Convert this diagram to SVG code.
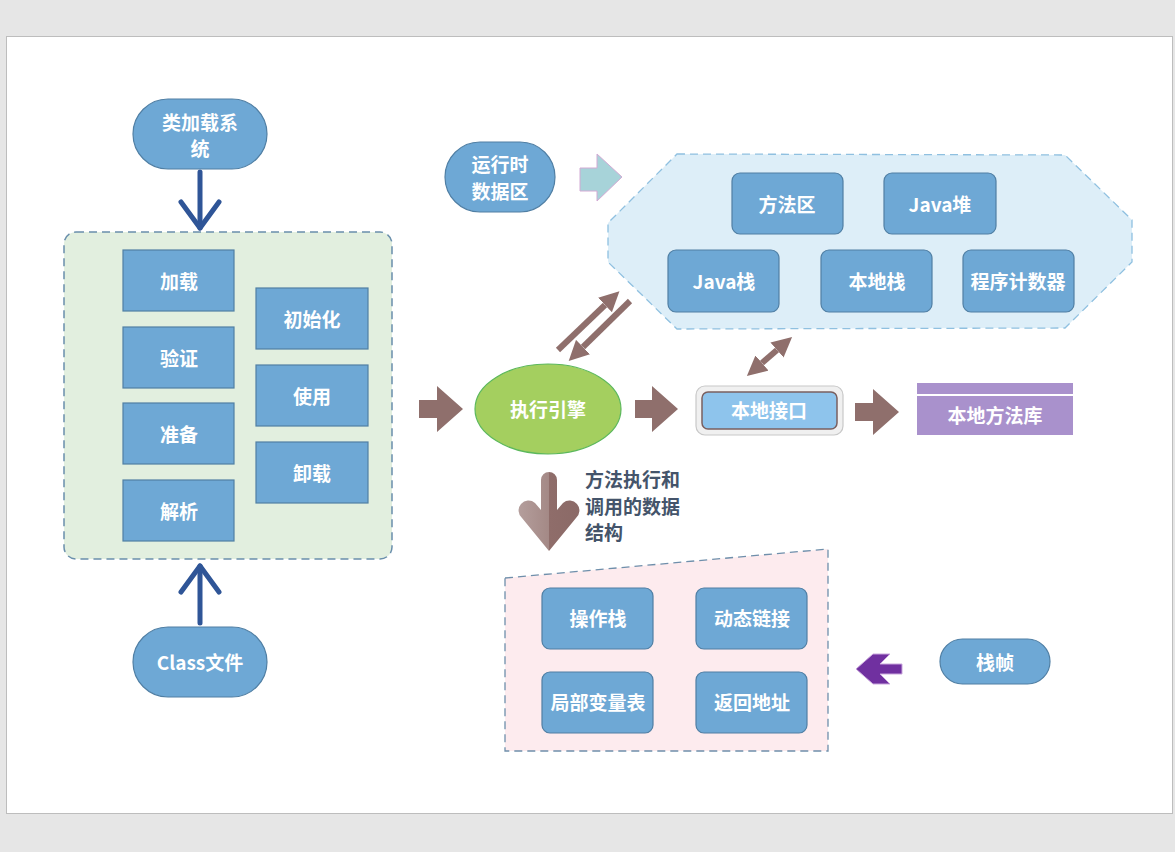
<svg xmlns="http://www.w3.org/2000/svg" width="1175" height="852" viewBox="0 0 1175 852">
<defs>
<style>
.t{font-family:"Noto Sans CJK SC","Noto Sans",sans-serif;font-weight:bold;font-size:19px;fill:#ffffff;text-anchor:middle;dominant-baseline:central}
.d{font-family:"Noto Sans CJK SC","Noto Sans",sans-serif;font-weight:bold;font-size:19px;fill:#44546a;dominant-baseline:central}
.box{fill:#6ea8d5;stroke:#507fa4;stroke-width:1.2}
.blue{fill:none;stroke:#2f5597;stroke-width:5;stroke-linecap:round;stroke-linejoin:round}
.brown{stroke:#8f6f6c;stroke-width:6;fill:none}
.block{fill:#8f6f6c}
</style>
<marker id="ah" viewBox="0 0 20 20" refX="0" refY="10" markerWidth="20" markerHeight="20" markerUnits="userSpaceOnUse" orient="auto-start-reverse">
<path d="M0,0 L20,10 L0,20 Z" fill="#8f6f6c"/>
</marker>
<linearGradient id="gd" x1="0" y1="0" x2="1" y2="0">
<stop offset="0" stop-color="#b49e9c"/>
<stop offset="0.5" stop-color="#a48986"/>
<stop offset="0.5" stop-color="#8f6d6a"/>
<stop offset="1" stop-color="#8b6a67"/>
</linearGradient>
</defs>
<rect x="0" y="0" width="1175" height="852" fill="#e6e6e6"/>
<rect x="6.5" y="36.5" width="1166" height="777" fill="#ffffff" stroke="#bdbdbd"/>

<g id="connectors">
<polyline class="blue" points="200,172 200,228"/>
<polyline class="blue" points="181,202 200,228 219,202"/>
<polyline class="blue" points="200,623 200,566"/>
<polyline class="blue" points="181,592 200,566 219,592"/>
<polygon points="580,168 597,168 597,154 622,177 597,201 597,191 580,191" fill="#a7d3d9" stroke="#d3aad4" stroke-width="1"/>
<polygon class="block" points="419,400 437,400 437,386 463,409 437,432 437,418 419,418"/>
<polygon class="block" points="635,400 652,400 652,386 678,409 652,432 652,418 635,418"/>
<polygon class="block" points="855,403 873,403 873,389 899,412 873,435 873,421 855,421"/>
<line class="brown" x1="558" y1="350" x2="605" y2="305" marker-end="url(#ah)"/>
<line class="brown" x1="630" y1="301" x2="583" y2="347" marker-end="url(#ah)"/>
<line class="brown" x1="762" y1="363" x2="777" y2="350" marker-start="url(#ah)" marker-end="url(#ah)"/>
<path d="M549,551 L522,518 A9,9 0 0 1 535,503 L541,510 L541,480 A8,8 0 0 1 557,480 L557,510 L563,503 A9,9 0 0 1 576,518 Z" fill="url(#gd)"/>
<polygon points="856,669 873,654 890,654 880,664 902,664 902,674 880,674 890,684 873,684" fill="#7030a0" stroke="#c9a6dd" stroke-width="1"/>
</g>

<g id="class-loader">
<rect x="133" y="99" width="134" height="70" rx="35" class="box"/>
<text class="t" x="200" y="121">类加载系</text>
<text class="t" x="200" y="147">统</text>
</g>

<g id="loading-area">
<rect x="64" y="232" width="328" height="327" rx="12" fill="#e2efdf" stroke="#6a8fac" stroke-width="1.5" stroke-dasharray="8,5"/>
</g>
<g id="n-load"><rect x="123" y="250" width="111" height="61" class="box"/><text class="t" x="179" y="280">加载</text></g>
<g id="n-verify"><rect x="123" y="327" width="111" height="61" class="box"/><text class="t" x="179" y="357">验证</text></g>
<g id="n-prepare"><rect x="123" y="403" width="111" height="61" class="box"/><text class="t" x="179" y="433">准备</text></g>
<g id="n-resolve"><rect x="123" y="480" width="111" height="61" class="box"/><text class="t" x="179" y="510">解析</text></g>
<g id="n-init"><rect x="256" y="288" width="112" height="61" class="box"/><text class="t" x="312" y="318">初始化</text></g>
<g id="n-use"><rect x="256" y="365" width="112" height="61" class="box"/><text class="t" x="312" y="395">使用</text></g>
<g id="n-unload"><rect x="256" y="442" width="112" height="61" class="box"/><text class="t" x="312" y="472">卸载</text></g>

<g id="class-file">
<rect x="133" y="627" width="134" height="70" rx="35" class="box"/>
<text class="t" x="200" y="661">Class文件</text>
</g>

<g id="runtime-label">
<rect x="445" y="142" width="110" height="70" rx="35" class="box"/>
<text class="t" x="500" y="163">运行时</text>
<text class="t" x="500" y="190">数据区</text>
</g>

<g id="runtime-area">
<polygon points="677,154 1065,155 1132,220 1132,262 1065,328 677,329 608,262 608,223" fill="#ddeef8" stroke="#8fc0e0" stroke-width="1.3" stroke-dasharray="8,5"/>
</g>
<g id="n-method"><rect x="732" y="173" width="111" height="61" rx="8" class="box"/><text class="t" x="787" y="203">方法区</text></g>
<g id="n-heap"><rect x="884" y="173" width="112" height="61" rx="8" class="box"/><text class="t" x="940" y="203">Java堆</text></g>
<g id="n-jstack"><rect x="668" y="250" width="111" height="62" rx="8" class="box"/><text class="t" x="724" y="280">Java栈</text></g>
<g id="n-nstack"><rect x="821" y="250" width="111" height="62" rx="8" class="box"/><text class="t" x="877" y="280">本地栈</text></g>
<g id="n-pc"><rect x="963" y="250" width="111" height="62" rx="8" class="box"/><text class="t" x="1018" y="280">程序计数器</text></g>

<g id="engine">
<ellipse cx="548" cy="409" rx="73" ry="45" fill="#a4cf5f" stroke="#5cb85c" stroke-width="1.2"/>
<text class="t" x="548" y="408">执行引擎</text>
</g>

<g id="native-interface">
<rect x="696" y="386" width="147" height="49" rx="9" fill="#f0f0f0" stroke="#c8c8c8" stroke-width="1.2"/>
<rect x="702" y="392" width="135" height="37" rx="6" fill="#8ec4ec" stroke="#7a5f5f" stroke-width="1.5"/>
<text class="t" x="769" y="409">本地接口</text>
</g>

<g id="native-lib">
<rect x="917" y="383" width="156" height="11" fill="#a991cc"/>
<rect x="917" y="396" width="156" height="39" fill="#a991cc"/>
<text class="t" x="995" y="414">本地方法库</text>
</g>

<g id="frame-label-text">
<text class="d" x="585" y="478">方法执行和</text>
<text class="d" x="585" y="505">调用的数据</text>
<text class="d" x="585" y="531">结构</text>
</g>

<g id="frame-area">
<polygon points="505,578 828,549 828,751 505,751" fill="#fdebee" stroke="#6f8fab" stroke-width="1.3" stroke-dasharray="8,5"/>
</g>
<g id="n-opstack"><rect x="542" y="588" width="111" height="61" rx="8" class="box"/><text class="t" x="598" y="617">操作栈</text></g>
<g id="n-dynlink"><rect x="696" y="588" width="111" height="61" rx="8" class="box"/><text class="t" x="752" y="617">动态链接</text></g>
<g id="n-locals"><rect x="542" y="672" width="111" height="61" rx="8" class="box"/><text class="t" x="598" y="701">局部变量表</text></g>
<g id="n-retaddr"><rect x="696" y="672" width="111" height="61" rx="8" class="box"/><text class="t" x="752" y="701">返回地址</text></g>

<g id="stack-frame">
<rect x="940" y="639" width="110" height="45" rx="22.5" class="box"/>
<text class="t" x="995" y="661">栈帧</text>
</g>
</svg>
